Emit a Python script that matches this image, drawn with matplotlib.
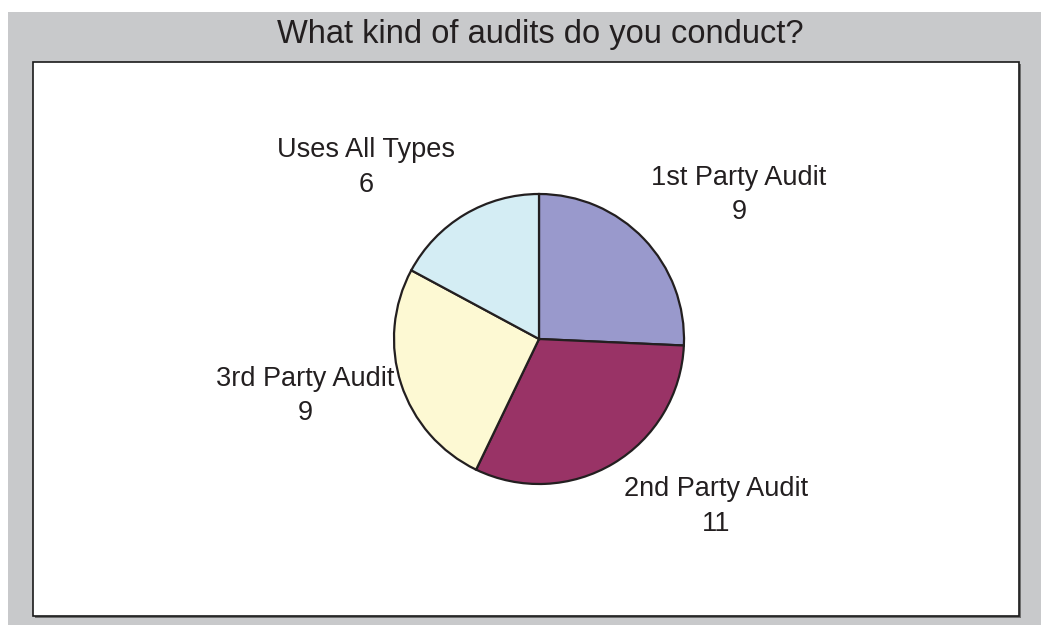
import matplotlib
matplotlib.use("Agg")
import matplotlib.pyplot as plt
from matplotlib.patches import Rectangle
import numpy as np

plt.rcParams['font.family'] = ['Liberation Sans', 'DejaVu Sans']

title = "What kind of audits do you conduct?"
categories = ["1st Party Audit", "2nd Party Audit", "3rd Party Audit", "Uses All Types"]
counts = [9, 11, 9, 6]
colors = ["#9999cc", "#993366", "#fdf9d3", "#d4edf4"]
# label placement (angle in degrees, distance in radii) as Excel put them
label_angles = [35.8, -43.5, 193.7, 135.3]
label_dist = [1.70, 1.68, 1.66, 1.68]

W, H = 1041, 625
fig = plt.figure(figsize=(W / 100, H / 100), dpi=100)
fig.patch.set_facecolor("white")

def px_rect(x0, y0, x1, y1):
    # pixel box (top-left origin) -> figure fraction
    return [x0 / W, 1 - y1 / H, (x1 - x0) / W, (y1 - y0) / H]

# grey chart area
bg = fig.add_axes(px_rect(0, 0, W, H))
bg.set_xlim(0, W)
bg.set_ylim(H, 0)
bg.axis("off")
bg.add_patch(Rectangle((8, 12), W - 8, H - 12, facecolor="#c8c9cb", edgecolor="none"))
# shadow + white plot area
bg.add_patch(Rectangle((35, 64), 986, 554, facecolor="#6e6e6e", edgecolor="none"))
bg.add_patch(Rectangle((33, 62), 986, 554, facecolor="white", edgecolor="#1a1a1a", linewidth=1.2))
bg.text(540, 34, title, fontsize=23.5, ha="center", va="center", color="#231f20")

# pie
cx, cy, r = 539, 339, 145
ax = fig.add_axes(px_rect(cx - r, cy - r, cx + r, cy + r))
wedges, _ = ax.pie(counts, colors=colors, startangle=90, counterclock=False,
                   wedgeprops=dict(edgecolor="#231f20", linewidth=1.6))
ax.set_xlim(-1, 1)
ax.set_ylim(-1, 1)
ax.set_aspect("equal")
ax.axis("off")

for name, n, a, d in zip(categories, counts, label_angles, label_dist):
    t = np.deg2rad(a)
    ax.text(d * np.cos(t), d * np.sin(t), f"{name}\n{n}", ha="center", va="center",
            fontsize=19.5, color="#231f20", linespacing=1.42, clip_on=False)

fig.savefig("out.png", dpi=100)
